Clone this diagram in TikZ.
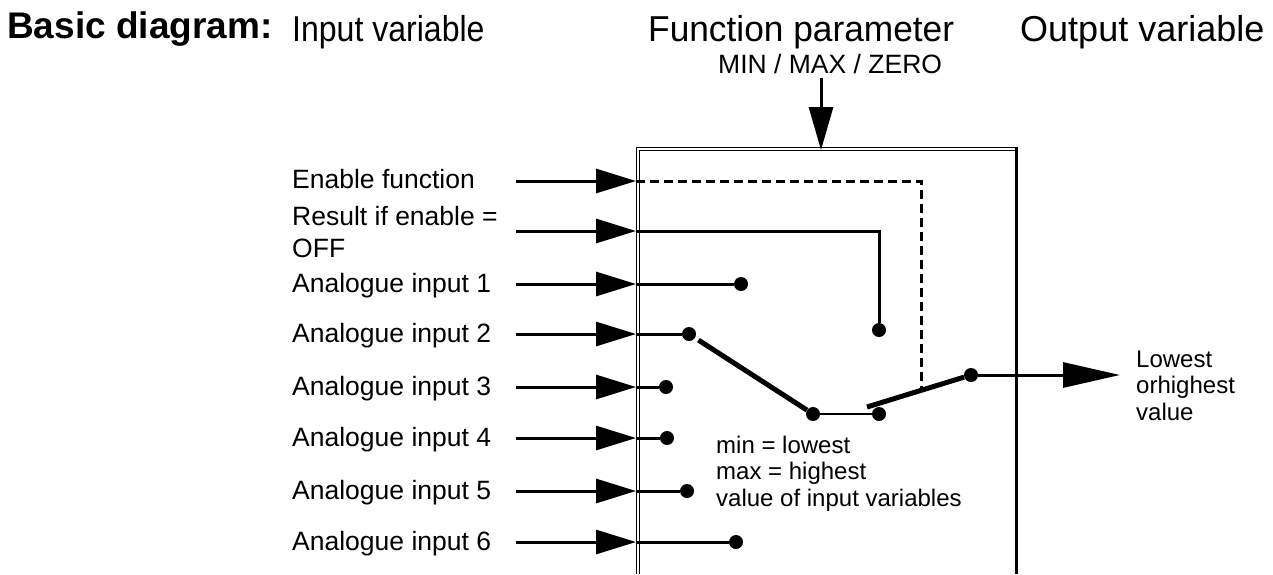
\documentclass[tikz,border=0pt]{standalone}
\usepackage{fontspec}
\setmainfont{Liberation Sans}
\usetikzlibrary{arrows.meta}
\newcommand{\stacklines}[1]{\begin{tabular}[t]{@{}l@{}}#1\end{tabular}}

\begin{document}
\begin{tikzpicture}[x=1pt,y=-1pt,
  lbl/.style={anchor=base west, inner sep=0pt, font=\fontsize{26.5}{32}\selectfont},
  head/.style={anchor=base west, inner sep=0pt, font=\fontsize{36}{40}\selectfont},
  note/.style={anchor=base west, inner sep=0pt, font=\fontsize{24}{26.5}\selectfont},
  wire/.style={line width=3pt},
  inarrow/.style={wire, -{Triangle[length=40pt,width=24pt]}},
  lever/.style={line width=5pt},
  dot/.style={circle, fill=black, minimum size=14pt, inner sep=0pt},
  frame/.style={line width=1pt},
]
\useasboundingbox (0,0) rectangle (1273,574);

% headings
\node[anchor=base west, inner sep=0pt, font=\fontsize{37}{40}\selectfont\bfseries] (title) at (7,38) {Basic diagram:};
\node[head] (hin) at (292,41) {\scalebox{0.89}[1]{Input variable}};
\node[head] (hfn) at (648,41) {\scalebox{0.98}[1]{Function parameter}};
\node[head] (hout) at (1020,41) {Output variable};
\node[lbl] (mode) at (718,73) {MIN / MAX / ZERO};

% function block: double left and top edges, single right edge
\draw[frame] (636,574) -- (636,147) -- (1016,147);
\draw[frame] (639.5,574) -- (639.5,150.5) -- (1016,150.5);
\draw[line width=3pt] (1016,146.5) -- (1016,574);

% parameter input
\coordinate (p0) at (821,78);
\coordinate (p1) at (821,150);
\draw[wire, -{Triangle[length=43pt,width=24pt]}] (p0) -- (p1);

% input labels
\node[lbl] (lE) at (292,188) {Enable function};
\node[lbl] (lR) at (292,225) {\stacklines{Result if enable =\\OFF}};
\node[lbl] (l1) at (292,292) {Analogue input 1};
\node[lbl] (l2) at (292,342) {Analogue input 2};
\node[lbl] (l3) at (292,395) {Analogue input 3};
\node[lbl] (l4) at (292,446) {Analogue input 4};
\node[lbl] (l5) at (292,499) {Analogue input 5};
\node[lbl] (l6) at (292,550) {Analogue input 6};

% input connector start and end points
\foreach \n/\y in {E/181, R/231, 1/284, 2/334, 3/387, 4/438, 5/491, 6/542} {
  \coordinate (s\n) at (516,\y);
  \coordinate (t\n) at (636,\y);
  \draw[inarrow] (s\n) -- (t\n);
}

% contact points
\node[dot] (d1) at (741,284) {};
\node[dot] (d2) at (689,334) {};
\node[dot] (d3) at (666,387) {};
\node[dot] (d4) at (667,438) {};
\node[dot] (d5) at (687,491) {};
\node[dot] (d6) at (736,542) {};
\node[dot] (dR) at (879,330) {};
\node[dot] (dA) at (813,414) {};
\node[dot] (dB) at (879,414) {};
\node[dot] (dO) at (971,375) {};

\foreach \n in {1,...,6} { \draw[wire] (t\n) -- (d\n); }

% result path when disabled
\coordinate (rc) at (879,231);
\draw[wire] (tR) -- (rc) -- (dR);

% selector switch
\draw[lever, shorten <=4pt] (d2) -- (dA);
\draw[line width=2pt] (dA) -- (dB);
\coordinate (lv0) at (867,407);
\draw[lever] (lv0) -- (dO);

% enable control (dashed)
\coordinate (ec) at (921,181);
\coordinate (ev) at (921,390);
\draw[wire, dash pattern=on 9pt off 5pt] (tE) -- (ec) -- (ev);

% output
\coordinate (oend) at (1120,375);
\draw[wire, -{Triangle[length=57pt,width=25pt]}] (dO) -- (oend);
\node[note] (lout) at (1136,367) {\stacklines{Lowest\\orhighest\\value}};

% explanation
\node[note] (expl) at (716,453) {\stacklines{min = lowest\\max = highest\\value of input variables}};
\end{tikzpicture}
\end{document}
